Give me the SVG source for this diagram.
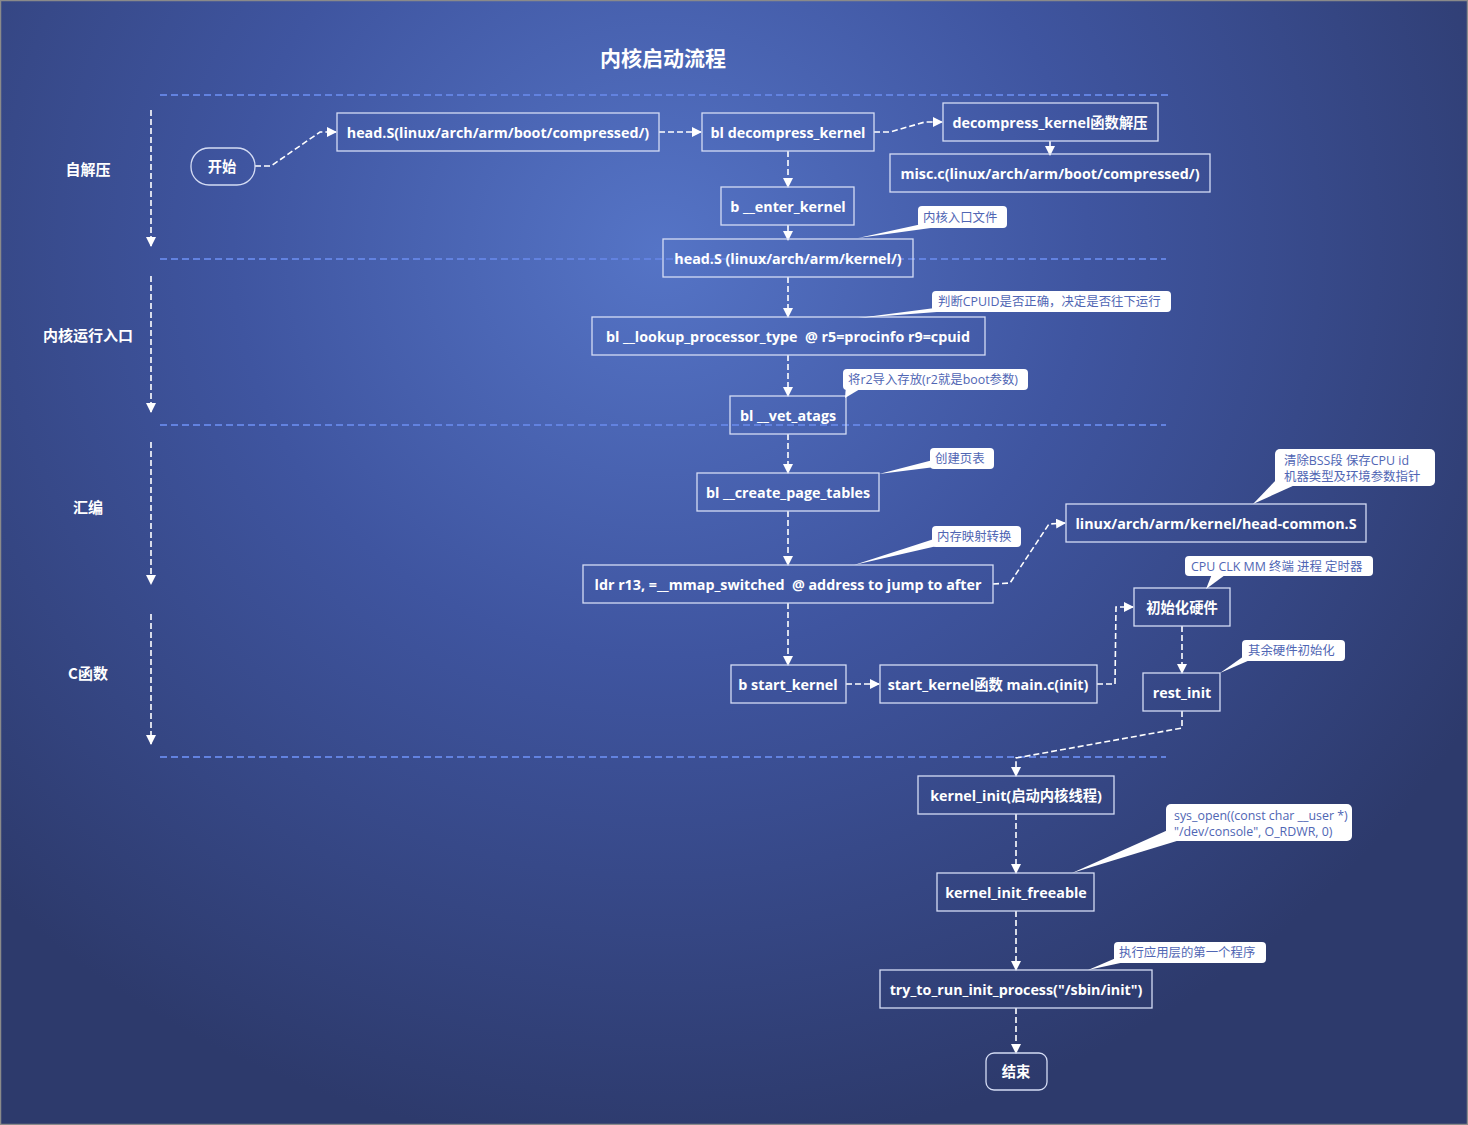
<svg xmlns="http://www.w3.org/2000/svg" width="1468" height="1125" viewBox="0 0 1468 1125">
<defs>
<radialGradient id="bg" gradientUnits="userSpaceOnUse" cx="660" cy="250" r="950" gradientTransform="translate(660 250) scale(1 0.95) translate(-660 -250)">
<stop offset="0" stop-color="#5574c6"/>
<stop offset="0.45" stop-color="#3f55a0"/>
<stop offset="1" stop-color="#2d3a6c"/>
</radialGradient>
<marker id="arr" viewBox="0 0 10 10" refX="9" refY="5" markerWidth="10" markerHeight="10" markerUnits="userSpaceOnUse" orient="auto">
<path d="M0,0 L10,5 L0,10 z" fill="#ffffff"/>
</marker>
<style>
.node{fill:none;stroke:#d4dcf4;stroke-width:1.3}
.nt{font-family:"Open Sans","Noto Sans CJK SC",sans-serif;font-weight:bold;font-size:14.3px;fill:#ffffff;text-anchor:middle;dominant-baseline:central}
.lbl{font-family:"Noto Sans CJK SC",sans-serif;font-weight:bold;font-size:15px;fill:#ffffff;text-anchor:middle;dominant-baseline:central}
.title{font-family:"Noto Sans CJK SC",sans-serif;font-weight:bold;font-size:21px;fill:#ffffff;text-anchor:middle;dominant-baseline:central}
.sep{stroke:#6282e0;stroke-width:2;stroke-dasharray:7 4;fill:none}
.conn{stroke:#ffffff;stroke-width:1.6;stroke-dasharray:6 3;fill:none;marker-end:url(#arr)}
.co{fill:#ffffff}
.ct{font-family:"Open Sans","Noto Sans CJK SC",sans-serif;font-size:12.4px;fill:#5066b4;dominant-baseline:central}
</style>
</defs>
<rect x="0" y="0" width="1468" height="1125" fill="url(#bg)"/>
<rect x="0.5" y="0.5" width="1467" height="1124" fill="none" stroke="#8a8a8a" stroke-width="1.5"/>

<text class="title" x="663" y="57">内核启动流程</text>

<g id="separators">
<line class="sep" x1="160" y1="95" x2="1172" y2="95"/>
<line class="sep" x1="160" y1="259" x2="1166" y2="259"/>
<line class="sep" x1="160" y1="425" x2="1166" y2="425"/>
<line class="sep" x1="160" y1="757" x2="1166" y2="757"/>
</g>

<g id="stages">
<text class="lbl" x="88" y="168">自解压</text>
<text class="lbl" x="88" y="334">内核运行入口</text>
<text class="lbl" x="88" y="506">汇编</text>
<text class="lbl" x="88" y="672">C函数</text>
<line class="conn" x1="151" y1="110" x2="151" y2="246"/>
<line class="conn" x1="151" y1="276" x2="151" y2="412"/>
<line class="conn" x1="151" y1="442" x2="151" y2="584"/>
<line class="conn" x1="151" y1="614" x2="151" y2="744"/>
</g>

<g id="connectors">
<path class="conn" d="M255,166 L271,166 L320,132 L336,132"/>
<path class="conn" d="M659,132 L701,132"/>
<path class="conn" d="M874,132 L890,132 L925,122 L942,122"/>
<path class="conn" d="M1050,141 L1050,155"/>
<path class="conn" d="M788,151 L788,187"/>
<path class="conn" d="M788,225 L788,240"/>
<path class="conn" d="M788,277 L788,317"/>
<path class="conn" d="M788,355 L788,396"/>
<path class="conn" d="M788,434 L788,473"/>
<path class="conn" d="M788,511 L788,565"/>
<path class="conn" d="M788,603 L788,665"/>
<path class="conn" d="M993,584 L1010,583 L1049,524 L1065,523"/>
<path class="conn" d="M846,684 L879,684"/>
<path class="conn" d="M1097,684 L1115,684 L1116,607 L1133,607"/>
<path class="conn" d="M1182,626 L1182,673"/>
<path class="conn" d="M1182,711 L1182,728 L1016,758 L1016,776"/>
<path class="conn" d="M1016,814 L1016,873"/>
<path class="conn" d="M1016,911 L1016,970"/>
<path class="conn" d="M1016,1008 L1016,1053"/>
</g>

<g id="n-start"><rect class="node" x="191" y="148" width="64" height="37" rx="18"/><text class="nt" x="222" y="166">开始</text></g>
<g id="n-headS-comp"><rect class="node" x="337" y="113" width="322" height="38"/><text class="nt" x="498" y="132">head.S(linux/arch/arm/boot/compressed/)</text></g>
<g id="n-bl-decomp"><rect class="node" x="702" y="113" width="172" height="38"/><text class="nt" x="788" y="132">bl decompress_kernel</text></g>
<g id="n-decomp-func"><rect class="node" x="943" y="103" width="215" height="38"/><text class="nt" x="1050" y="122">decompress_kernel函数解压</text></g>
<g id="n-misc"><rect class="node" x="890" y="154" width="320" height="38"/><text class="nt" x="1050" y="173">misc.c(linux/arch/arm/boot/compressed/)</text></g>
<g id="n-enter"><rect class="node" x="721" y="187" width="133" height="38"/><text class="nt" x="788" y="206">b __enter_kernel</text></g>
<g id="n-headS-kernel"><rect class="node" x="663" y="239" width="250" height="38"/><text class="nt" x="788" y="258">head.S (linux/arch/arm/kernel/)</text></g>
<g id="n-lookup"><rect class="node" x="592" y="317" width="393" height="38"/><text class="nt" x="788" y="336" xml:space="preserve">bl __lookup_processor_type  @ r5=procinfo r9=cpuid</text></g>
<g id="n-vet"><rect class="node" x="730" y="396" width="116" height="38"/><text class="nt" x="788" y="415">bl __vet_atags</text></g>
<g id="n-create"><rect class="node" x="697" y="473" width="182" height="38"/><text class="nt" x="788" y="492">bl __create_page_tables</text></g>
<g id="n-ldr"><rect class="node" x="583" y="565" width="410" height="38"/><text class="nt" x="788" y="584" xml:space="preserve">ldr r13, =__mmap_switched  @ address to jump to after</text></g>
<g id="n-headcommon"><rect class="node" x="1066" y="504" width="300" height="38"/><text class="nt" x="1216" y="523">linux/arch/arm/kernel/head-common.S</text></g>
<g id="n-inithw"><rect class="node" x="1134" y="588" width="96" height="38"/><text class="nt" x="1182" y="607">初始化硬件</text></g>
<g id="n-restinit"><rect class="node" x="1143" y="673" width="77" height="38"/><text class="nt" x="1182" y="692">rest_init</text></g>
<g id="n-bstart"><rect class="node" x="731" y="665" width="115" height="38"/><text class="nt" x="788" y="684">b start_kernel</text></g>
<g id="n-startfunc"><rect class="node" x="880" y="665" width="217" height="38"/><text class="nt" x="988" y="684">start_kernel函数 main.c(init)</text></g>
<g id="n-kinit"><rect class="node" x="918" y="776" width="196" height="38"/><text class="nt" x="1016" y="795">kernel_init(启动内核线程)</text></g>
<g id="n-kfree"><rect class="node" x="937" y="873" width="157" height="38"/><text class="nt" x="1016" y="892">kernel_init_freeable</text></g>
<g id="n-try"><rect class="node" x="880" y="970" width="272" height="38"/><text class="nt" x="1016" y="989">try_to_run_init_process("/sbin/init")</text></g>
<g id="n-end"><rect class="node" x="986" y="1053" width="61" height="37" rx="8"/><text class="nt" x="1016" y="1071">结束</text></g>

<g id="callouts">
<g id="c1"><polygon class="co" points="922,224 938,227 858,238"/><rect class="co" x="918" y="206" width="89" height="22" rx="4"/><text class="ct" x="923" y="217">内核入口文件</text></g>
<g id="c2"><polygon class="co" points="935,308 950,311 858,318"/><rect class="co" x="932" y="291" width="239" height="21" rx="4"/><text class="ct" x="938" y="301.5">判断CPUID是否正确，决定是否往下运行</text></g>
<g id="c3"><polygon class="co" points="846,385 860,389 845,398"/><rect class="co" x="843" y="369" width="185" height="21" rx="4"/><text class="ct" x="848" y="379.5">将r2导入存放(r2就是boot参数)</text></g>
<g id="c4"><polygon class="co" points="933,460 935,467 879,474"/><rect class="co" x="930" y="448" width="64" height="21" rx="4"/><text class="ct" x="935" y="458.5">创建页表</text></g>
<g id="c5"><polygon class="co" points="1278,478 1295,485 1253,504"/><rect class="co" x="1275" y="449" width="160" height="37" rx="5"/><text class="ct" x="1284" y="460">清除BSS段 保存CPU id</text><text class="ct" x="1284" y="476">机器类型及环境参数指针</text></g>
<g id="c6"><polygon class="co" points="934,539 937,546 854,565"/><rect class="co" x="932" y="526" width="89" height="21" rx="4"/><text class="ct" x="937" y="536.5">内存映射转换</text></g>
<g id="c7"><polygon class="co" points="1212,574 1225,575 1206,589"/><rect class="co" x="1185" y="556" width="188" height="20" rx="4"/><text class="ct" x="1191" y="566">CPU CLK MM 终端 进程 定时器</text></g>
<g id="c8"><polygon class="co" points="1244,656 1250,660 1220,673"/><rect class="co" x="1242" y="640" width="103" height="21" rx="4"/><text class="ct" x="1248" y="650.5">其余硬件初始化</text></g>
<g id="c9"><polygon class="co" points="1168,830 1180,840 1072,873"/><rect class="co" x="1166" y="804" width="186" height="37" rx="5"/><text class="ct" x="1174" y="815">sys_open((const char __user *)</text><text class="ct" x="1174" y="831">"/dev/console", O_RDWR, 0)</text></g>
<g id="c10"><polygon class="co" points="1116,958 1125,962 1088,970"/><rect class="co" x="1114" y="942" width="152" height="21" rx="4"/><text class="ct" x="1119" y="952.5">执行应用层的第一个程序</text></g>
</g>
</svg>
